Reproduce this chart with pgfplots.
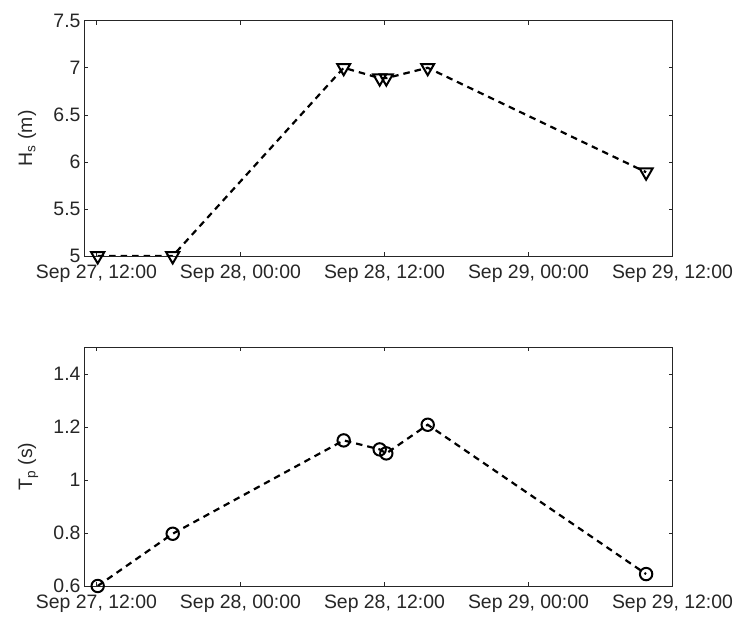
\documentclass[border=0pt]{standalone}
\usepackage{fontspec}
\setmainfont{Liberation Sans}
\usepackage{pgfplots}
\pgfplotsset{compat=1.18}

% hours counted from Sep 27, 00:00
\pgfplotstableread{
t     hs
12.1  5.00
18.35 5.00
32.6  7.00
35.6  6.89
36.15 6.89
39.6  7.00
57.8  5.89
}\hsdata
\pgfplotstableread{
t     tp
12.1  0.600
18.35 0.797
32.6  1.149
35.6  1.115
36.15 1.100
39.6  1.208
57.8  0.645
}\tpdata

\definecolor{axgray}{gray}{0.15}

\pgfplotsset{
  mlab/.style={
    scale only axis,
    width=588.5bp,
    xmin=10.96, xmax=60,
    xtick={12,24,36,48,60},
    xticklabels={{Sep 27, 12:00},{Sep 28, 00:00},{Sep 28, 12:00},{Sep 29, 00:00},{Sep 29, 12:00}},
    tick align=inside,
    major tick length=4bp,
    tick style={axgray, line width=0.6bp},
    axis line style={axgray, line width=0.8bp},
    tick label style={font=\fontsize{19.5}{22}\selectfont, text=axgray},
    label style={font=\fontsize{19.5}{22}\selectfont, text=axgray},
    xticklabel style={yshift=-5bp},
    /pgf/number format/assume math mode=true,
    ylabel style={at={(axis description cs:-0.088,0.5)}, anchor=base},
    every axis plot/.append style={black, line width=2.2bp, dash pattern=on 6.5bp off 5bp},
  }
}

\begin{document}
\begin{tikzpicture}
\path[use as bounding box] (0,0) rectangle (734bp,617bp);

\begin{axis}[mlab,
  at={(84bp,361bp)}, anchor=south west,
  height=235.3bp,
  ymin=5, ymax=7.5,
  ytick={5,5.5,6,6.5,7,7.5},
  ylabel={H\textsubscript{s} (m)},
]
\addplot[mark=triangle, mark size=7.5bp, mark options={solid, rotate=180, line width=2bp, fill=white}] table[x=t, y=hs] {\hsdata};
\end{axis}

\begin{axis}[mlab,
  at={(84bp,31bp)}, anchor=south west,
  height=238.7bp,
  ymin=0.6, ymax=1.5,
  ytick={0.6,0.8,1,1.2,1.4},
  ylabel={T\textsubscript{p} (s)},
]
\addplot[mark=o, mark size=6.2bp, mark options={solid, line width=2bp}] table[x=t, y=tp] {\tpdata};
\end{axis}
\end{tikzpicture}
\end{document}
